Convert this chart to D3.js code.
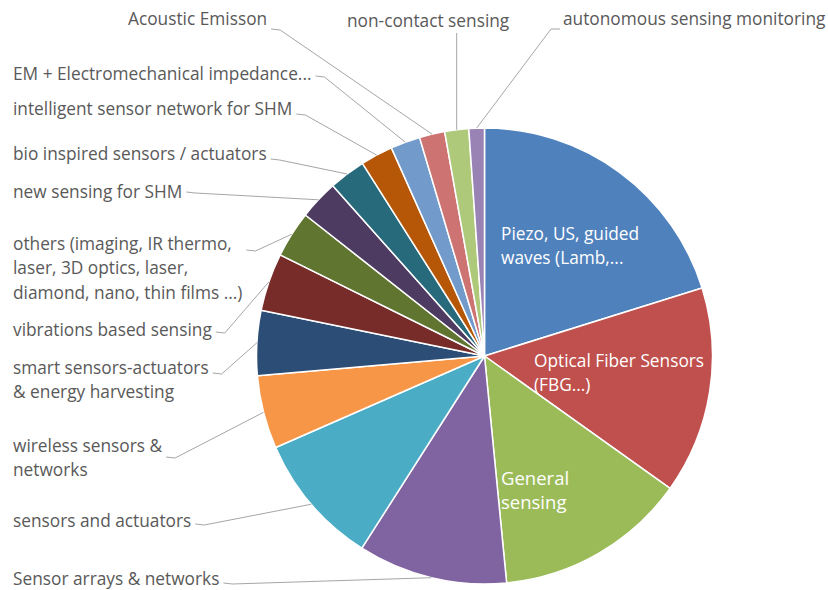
<!DOCTYPE html>
<html>
<head>
<meta charset="utf-8">
<script src="https://cdn.jsdelivr.net/npm/d3@7/dist/d3.min.js"></script>
<style>
  body { margin: 0; background: #fff; }
  text { font-family: "Open Sans", sans-serif; }
</style>
</head>
<body>
<div id="chart-container"></div>
<script>
// Data (share of papers per topic, %)
const categories = [
    "Piezo, US, guided\nwaves (Lamb,...",
    "Optical Fiber Sensors\n(FBG...)",
    "General\nsensing",
    "Sensor arrays & networks",
    "sensors and actuators",
    "wireless sensors &\nnetworks",
    "smart sensors-actuators\n& energy harvesting",
    "vibrations based sensing",
    "others (imaging, IR thermo,\nlaser, 3D optics, laser,\ndiamond, nano, thin films ...)",
    "new sensing for SHM",
    "bio inspired sensors / actuators",
    "intelligent sensor network for SHM",
    "EM + Electromechanical impedance...",
    "Acoustic Emisson",
    "non-contact sensing",
    "autonomous sensing monitoring"
];
const values = [20.2, 14.7, 13.6, 10.6, 9.4, 5.2, 4.6, 4.1, 3.3, 2.8, 2.6, 2.3, 2.1, 1.8, 1.7, 1.1];

const colors = ["#4F81BD", "#C0504D", "#9BBB59", "#8064A2", "#4BACC6", "#F79646",
    "#2C4D75", "#772C2A", "#5F7530", "#4D3B62", "#276A7C", "#B65708",
    "#729ACA", "#CD7371", "#AFC97A", "#9983B5"];

// label layout: x, y = centre of first line; inside labels have no leader
// side: 'right' leader leaves from the right end, 'left' from the left, 'down' from below
const labelLayout = [
    { x: 501, y: 233, inside: true },
    { x: 534, y: 360, inside: true },
    { x: 501, y: 477, inside: true, big: true },
    { x: 13, y: 578, dy: 5, side: 'right' },
    { x: 13, y: 520, dy: 4, side: 'right' },
    { x: 13, y: 445, dy: 12, side: 'right' },
    { x: 13, y: 367, dy: 6, side: 'right' },
    { x: 13, y: 329, dy: 3, side: 'right' },
    { x: 13, y: 243, dy: 7, side: 'right' },
    { x: 13, y: 191, dy: 1, side: 'right' },
    { x: 13, y: 153, dy: 6, side: 'right' },
    { x: 13, y: 108, dy: 6, side: 'right' },
    { x: 13, y: 73, dy: 3, side: 'right' },
    { x: 128, y: 18, dy: 11, side: 'right' },
    { x: 347, y: 20, dy: 13, side: 'down' },
    { x: 563, y: 18, dy: 11, side: 'left' }
];

const width = 828;
const height = 590;
const cx = 484.5, cy = 356, radius = 228;
const lineHeight = 24.5;
const fontSize = 17.3;

const svg = d3.select('#chart-container')
    .append('svg')
    .attr('width', width)
    .attr('height', height);

const pie = d3.pie().sort(null).value(d => d);
const arcs = pie(values);

const arc = d3.arc().innerRadius(0).outerRadius(radius);
const edgeArc = d3.arc().innerRadius(radius).outerRadius(radius);

const g = svg.append('g').attr('transform', `translate(${cx},${cy})`);

// Slices
g.selectAll('.slice')
    .data(arcs)
    .enter()
    .append('path')
    .attr('class', 'slice')
    .attr('d', arc)
    .attr('fill', (d, i) => colors[i])
    .attr('stroke', '#fff')
    .attr('stroke-width', 1.5)
    .attr('stroke-linejoin', 'round');

// Labels + leader lines
const labels = svg.append('g');
const leaders = svg.append('g');

arcs.forEach((d, i) => {
    const lay = labelLayout[i];
    const lines = categories[i].split('\n');
    const fs = lay.big ? 18.5 : fontSize;
    const t = labels.append('text')
        .attr('fill', lay.inside ? '#fff' : '#595959')
        .style('font-size', fs + 'px');
    const spans = lines.map((ln, k) => t.append('tspan')
        .attr('x', lay.x)
        .attr('y', lay.y + k * lineHeight)
        .attr('dominant-baseline', 'central')
        .text(ln));

    if (lay.inside) return;

    // where the leader meets the pie
    const [px, py] = edgeArc.centroid(d);
    const end = [cx + px, cy + py];
    const w = d3.max(spans, s => s.node().getComputedTextLength());
    let pts;
    if (lay.side === 'right') {
        const sx = lay.x + w + 4, sy = lay.y + lay.dy;
        pts = [[sx, sy], [sx + 9, sy + 1], end];
    } else if (lay.side === 'left') {
        const sx = lay.x - 3, sy = lay.y + lay.dy;
        pts = [[sx, sy], [sx - 9, sy], end];
    } else {
        pts = [[end[0], lay.y + lay.dy], end];
    }
    leaders.append('path')
        .attr('d', d3.line()(pts))
        .attr('fill', 'none')
        .attr('stroke', '#A6A6A6')
        .attr('stroke-width', 1);
});
</script>
</body>
</html>
